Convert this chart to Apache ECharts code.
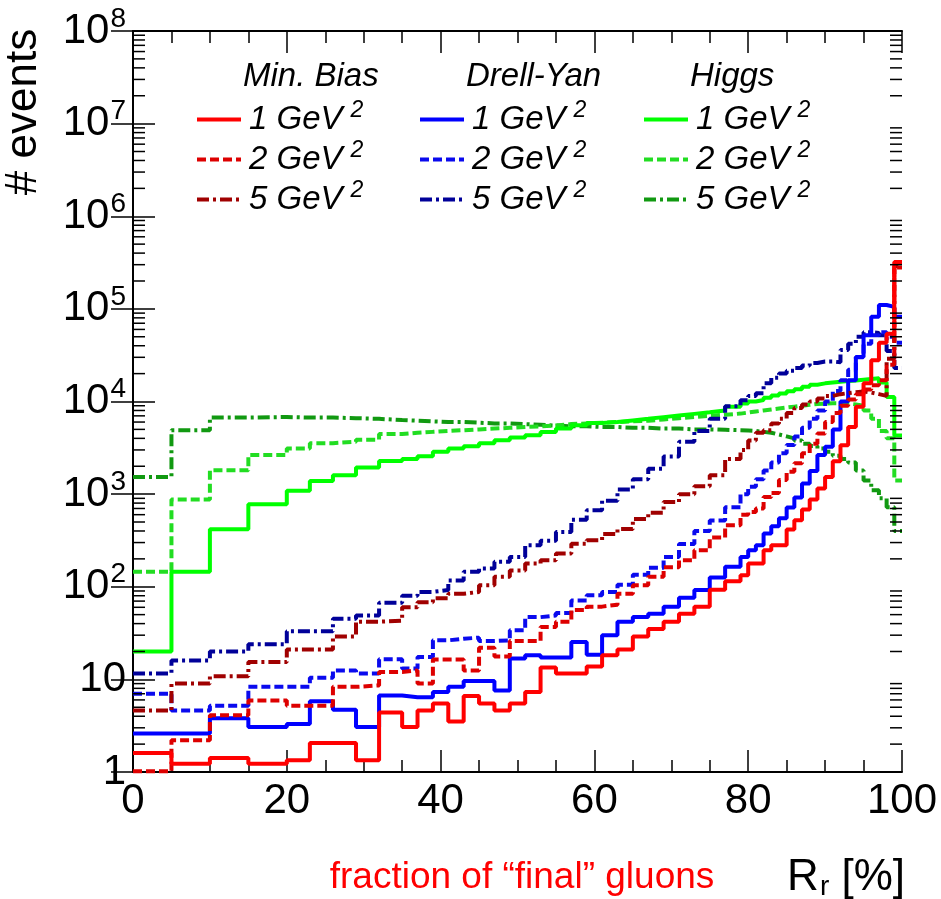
<!DOCTYPE html>
<html>
<head>
<meta charset="utf-8">
<script src="https://cdn.jsdelivr.net/npm/echarts@6/dist/echarts.min.js"></script>
<style>
  html, body { margin: 0; padding: 0; background: #fff; }
  #main { width: 941px; height: 899px; }
</style>
</head>
<body>
<div id="main"></div>
<script>
// bin edges of the R_r histogram (variable width)
var binEdges = [0, 5, 10, 15, 20, 23, 26, 29, 32, 35, 37, 39, 41, 43, 45, 47, 49, 51, 53, 55, 57, 59, 61, 63,
  65, 67, 69, 71, 73, 75, 77, 79, 80, 81, 82, 83, 84, 85, 86, 87, 88, 89, 90, 91, 92, 93, 94, 95, 96, 97, 98, 99, 100];

// Min. Bias
var mb1 = [1.6, 1.23, 1.42, 1.23, 1.34, 2.06, 2.06, 1.34, 4.4, 3.06, 4.6, 5.5, 3.5, 6.6, 5.5, 4.6, 5.5, 7.3, 13.4, 11.6,
  11.6, 13.8, 18.2, 21, 29, 35, 42, 51, 61, 93, 115, 133, 178, 178, 248, 280, 280, 415, 522, 683, 875, 1150, 1535, 2265,
  3370, 5300, 8750, 15700, 27900, 43000, 54000, 320000];
var mb2 = [1.02, 2.2, 4.1, 5.9, 5.2, 5.2, 8.3, 8.6, 12, 12.5, 9.0, 16.4, 16.4, 12.5, 22, 17.7, 26, 26, 36.8, 42,
  56, 61, 64, 84, 104, 128, 162, 193, 248, 340, 461, 600, 640, 700, 930, 1030, 1420, 1740, 2160, 2760, 3500, 4500, 6000, 7500,
  9000, 10500, 12000, 13500, 15000, 17000, 25000, 280000];
var mb5 = [4.6, 9.0, 10.8, 15.4, 21, 21, 29, 42, 43, 60, 68, 75, 84, 88, 104, 128, 150, 178, 193, 228,
  292, 318, 370, 420, 540, 630, 820, 1000, 1220, 1600, 2400, 3000, 3800, 4600, 4900, 5800, 6500, 7500, 8500, 9300, 10000, 10800, 11500, 12000,
  12300, 12600, 12800, 12500, 12000, 11500, 29000, 290000];
// Drell-Yan
var dy1 = [2.6, 2.6, 3.8, 3.06, 3.3, 5.8, 4.7, 3.06, 6.7, 6.4, 6.4, 7.3, 8.3, 9.6, 9.6, 7.6, 16.8, 18.2, 17.2, 17.2,
  25.3, 18.5, 30, 42, 47, 51, 61, 76, 92, 126, 164, 210, 248, 281, 375, 450, 548, 715, 920, 1300, 1780, 2640, 3250, 5000,
  10000, 17000, 30300, 52000, 82000, 110000, 105000, 82000];
var dy2 = [7.0, 4.6, 5.2, 8.3, 8.3, 10.4, 12.5, 11.6, 16.5, 13.1, 17.4, 26.4, 27.5, 28.2, 26, 26.4, 34, 47, 49, 52,
  71, 81, 88, 105, 135, 160, 210, 290, 400, 520, 720, 1000, 1200, 1450, 1800, 2200, 2760, 3400, 4200, 5200, 6500, 8000, 10000, 13000,
  17000, 22000, 30000, 42000, 52000, 56000, 50000, 43000];
var dy5 = [11.6, 16, 20, 24, 33, 33, 45, 49, 67, 80, 88, 92, 117, 145, 157, 186, 210, 280, 313, 390,
  530, 670, 850, 1120, 1450, 1880, 2550, 3670, 4800, 6500, 8900, 10300, 11500, 12300, 15700, 18000, 20000, 21500, 23000, 24500, 26000, 27000, 27000, 26500,
  36000, 42000, 50000, 56000, 55000, 52000, 35000, 23000];
// Higgs
var h1 = [20, 145, 418, 778, 1085, 1390, 1600, 1940, 2280, 2400, 2560, 2860, 3100, 3290, 3550, 3820, 4090, 4330, 4690, 5100,
  5530, 5850, 6000, 6250, 6500, 6780, 7060, 7350, 7650, 8000, 8800, 9500, 10000, 10400, 11000, 11600, 12200, 12900, 13600, 14400, 15200, 15700, 16000, 16300,
  16600, 16900, 17200, 17500, 17800, 16000, 11200, 4300];
var h2 = [145, 875, 1810, 2640, 3100, 3550, 3670, 3870, 4450, 4600, 4700, 4800, 4900, 5000, 5100, 5200, 5300, 5400, 5500, 5700,
  5800, 5900, 6000, 6100, 6200, 6400, 6600, 6800, 7000, 7200, 7400, 7600, 7800, 8000, 8200, 8400, 8600, 8800, 9000, 9200, 9400, 9500, 9600, 9600,
  9500, 9300, 9000, 8000, 6500, 4800, 4000, 1400];
var h5 = [1535, 4900, 6700, 6800, 6700, 6700, 6600, 6500, 6300, 6200, 6100, 6000, 6000, 5900, 5800, 5800, 5700, 5600, 5500, 5400,
  5400, 5300, 5300, 5200, 5200, 5100, 5100, 5000, 5000, 4950, 4900, 4850, 4800, 4700, 4600, 4400, 4200, 4000, 3800, 3500, 3300, 3100, 2870, 2600,
  2400, 2200, 1800, 1400, 1100, 900, 720, 400];

var yMinorTicks = [];
for (var k = 0; k < 8; k++) {
  for (var m = 2; m <= 9; m++) yMinorTicks.push(m * Math.pow(10, k));
}

var FONT = "'Liberation Sans', Arial, sans-serif";
var DASH = [9, 4];
var DASHDOT = [12, 4, 3, 4];

// histogram -> step points (left edge of each bin, plus closing right edge)
function steps(vals) {
  var pts = vals.map(function (v, i) { return [binEdges[i], v]; });
  pts.push([binEdges[binEdges.length - 1], vals[vals.length - 1]]);
  return pts;
}

function histSeries(name, vals, color, type) {
  return {
    name: name,
    type: 'line',
    step: 'end',
    symbol: 'none',
    data: steps(vals),
    lineStyle: { color: color, width: 4, type: type },
    itemStyle: { color: color },
    z: 3
  };
}

var legendText = {
  mb1: '1 GeV{s|2}', mb2: '2 GeV{s|2}', mb5: '5 GeV{s|2}',
  dy1: '1 GeV{s|2}', dy2: '2 GeV{s|2}', dy5: '5 GeV{s|2}',
  h1: '1 GeV{s|2}', h2: '2 GeV{s|2}', h5: '5 GeV{s|2}'
};

function legendAt(left, names) {
  return {
    data: names,
    orient: 'vertical',
    left: left,
    top: 94,
    itemWidth: 44,
    itemHeight: 12,
    itemGap: 3,
    selectedMode: false,
    itemStyle: { opacity: 0 },
    lineStyle: { width: 4 },
    formatter: function (n) { return legendText[n]; },
    textStyle: {
      fontSize: 33, fontStyle: 'italic', fontFamily: FONT, color: '#000', lineHeight: 33, padding: [0, 0, 0, 3],
      rich: { s: { fontSize: 23, fontStyle: 'italic', fontFamily: FONT, color: '#000', padding: [0, 0, 18, 8] } }
    }
  };
}

var chart = echarts.init(document.getElementById('main'), null, { renderer: 'canvas' });

var xAxisBase = {
  type: 'value', min: 0, max: 100, interval: 20,
  axisLine: { lineStyle: { color: '#000', width: 2 } },
  axisTick: { inside: true, length: 22, lineStyle: { color: '#000', width: 1.5 } },
  minorTick: { show: true, splitNumber: 4, length: 12, lineStyle: { color: '#000', width: 1.5 } },
  splitLine: { show: false }
};

var option = {
  animation: false,
  backgroundColor: '#fff',
  grid: { left: 133, right: 39, top: 31, bottom: 127 },
  xAxis: [
    Object.assign({}, xAxisBase, {
      position: 'bottom',
      axisLabel: { fontSize: 42, fontFamily: FONT, color: '#000', margin: 8 }
    }),
    Object.assign({}, xAxisBase, { position: 'top', axisLabel: { show: false } })
  ],
  yAxis: [
    {
      type: 'log', logBase: 10, min: 1, max: 1e8, splitNumber: 8, position: 'left',
      axisLine: { lineStyle: { color: '#000', width: 2 } },
      axisTick: { inside: true, length: 22, lineStyle: { color: '#000', width: 1.5 } },
      splitLine: { show: false },
      axisLabel: {
        fontSize: 42, fontFamily: FONT, color: '#000', margin: 7,
        formatter: function (v) {
          var e = Math.round(Math.log10(v));
          if (e === 0) return '1';
          if (e === 1) return '10';
          return '10{s|' + e + '}';
        },
        rich: { s: { fontSize: 28, fontFamily: FONT, color: '#000', padding: [0, 0, 24, 1] } }
      }
    },
    {
      type: 'log', logBase: 10, min: 1, max: 1e8, splitNumber: 8, position: 'right',
      axisLine: { lineStyle: { color: '#000', width: 2 } },
      axisTick: { inside: true, length: 22, lineStyle: { color: '#000', width: 1.5 } },
      splitLine: { show: false },
      axisLabel: { show: false }
    }
  ],
  legend: [
    legendAt(190, ['mb1', 'mb2', 'mb5']),
    legendAt(413, ['dy1', 'dy2', 'dy5']),
    legendAt(637, ['h1', 'h2', 'h5'])
  ],
  graphic: [
    { type: 'text', x: 243, y: 77, style: { text: 'Min. Bias', fontSize: 33, fontStyle: 'italic', fontFamily: FONT, fill: '#000', verticalAlign: 'middle' } },
    { type: 'text', x: 466, y: 77, style: { text: 'Drell-Yan', fontSize: 33, fontStyle: 'italic', fontFamily: FONT, fill: '#000', verticalAlign: 'middle' } },
    { type: 'text', x: 690, y: 77, style: { text: 'Higgs', fontSize: 33, fontStyle: 'italic', fontFamily: FONT, fill: '#000', verticalAlign: 'middle' } },
    { type: 'text', x: 24, y: 112, rotation: Math.PI / 2,
      style: { text: '# events', fontSize: 44, fontFamily: FONT, fill: '#000', align: 'center', verticalAlign: 'middle' } },
    { type: 'text', x: 522, y: 878,
      style: { text: 'fraction of \u201cfinal\u201d gluons', fontSize: 37, fontFamily: FONT, fill: '#ff0000', align: 'center', verticalAlign: 'middle' } },
    { type: 'text', x: 905, y: 878,
      style: { text: 'R{sub|r} [%]', fontSize: 44, fontFamily: FONT, fill: '#000', align: 'right', verticalAlign: 'middle',
        rich: { sub: { fontSize: 28, fontFamily: FONT, fill: '#000', padding: [18, 0, 0, 1] } } } }
  ],
  series: [
    // minor log ticks on left and right frame
    {
      type: 'custom', silent: true, z: 5,
      data: yMinorTicks.map(function (v) { return [0, v]; }),
      renderItem: function (params, api) {
        var l = api.coord([0, api.value(1)]);
        var r = api.coord([100, api.value(1)]);
        return {
          type: 'group',
          children: [
            { type: 'line', shape: { x1: l[0], y1: l[1], x2: l[0] + 12, y2: l[1] }, style: { stroke: '#000', lineWidth: 1.5 } },
            { type: 'line', shape: { x1: r[0] - 12, y1: r[1], x2: r[0], y2: r[1] }, style: { stroke: '#000', lineWidth: 1.5 } }
          ]
        };
      }
    },
    histSeries('h5', h5, '#119911', DASHDOT),
    histSeries('h2', h2, '#22dd22', DASH),
    histSeries('h1', h1, '#00ff00', 'solid'),
    histSeries('dy5', dy5, '#000099', DASHDOT),
    histSeries('dy2', dy2, '#0a0aee', DASH),
    histSeries('dy1', dy1, '#0000ff', 'solid'),
    histSeries('mb5', mb5, '#a00000', DASHDOT),
    histSeries('mb2', mb2, '#dd0000', DASH),
    histSeries('mb1', mb1, '#ff0000', 'solid')
  ]
};

chart.setOption(option);
</script>
</body>
</html>
